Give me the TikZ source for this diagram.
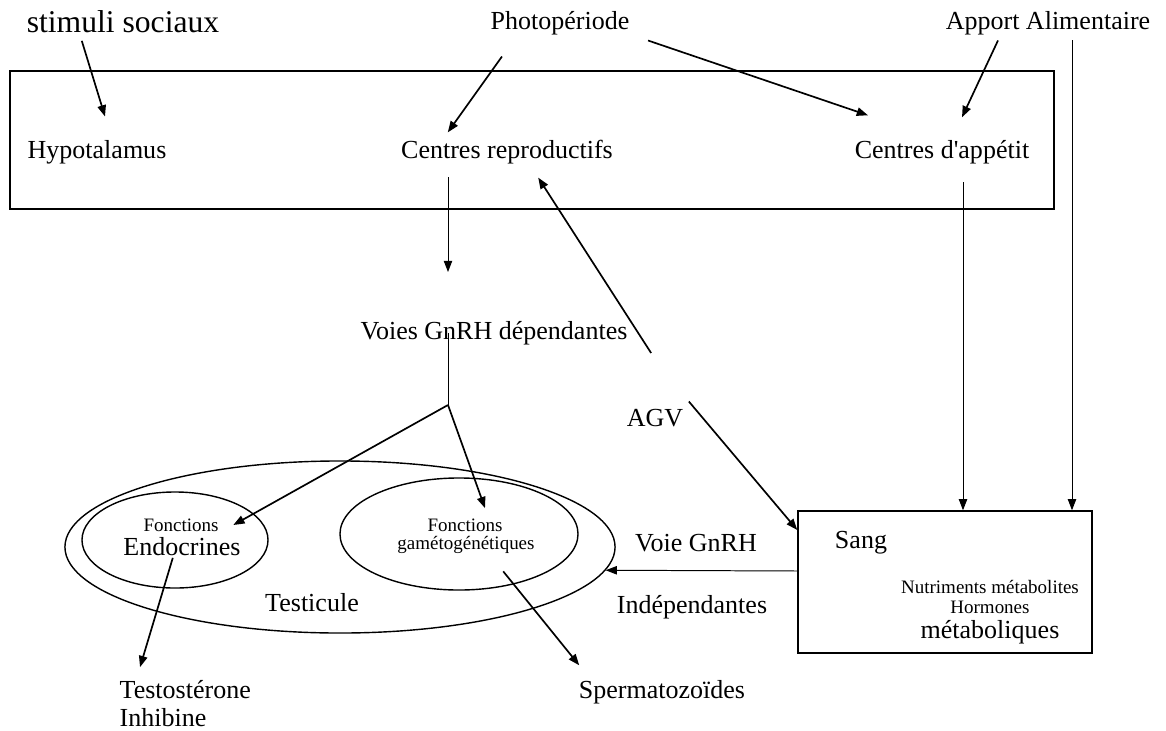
\documentclass[tikz,border=0pt]{standalone}
\usepackage{fontspec}
\setmainfont{Liberation Serif}
\usetikzlibrary{arrows.meta,shapes.geometric}
\begin{document}
\begin{tikzpicture}[x=0.025cm,y=-0.025cm,
  lbl/.style={font=\fontsize{18.5}{20}\selectfont, inner sep=1pt},
  sml/.style={font=\fontsize{13.5}{15}\selectfont, inner sep=1pt},
  arr/.style={-{Triangle[length=8pt,width=6pt]}, line width=1.2pt},
  fin/.style={-{Triangle[length=8pt,width=6pt]}, line width=0.7pt},
  oval/.style={draw, ellipse, line width=1pt, inner sep=0pt}]
\useasboundingbox (0,0) rectangle (1166,731);
% boxes and ovals
\node[draw, line width=1.3pt, minimum width=26.1cm, minimum height=3.45cm] (hypobox) at (532,140) {};
\node[draw, line width=1pt, minimum width=7.35cm, minimum height=3.55cm] (sangbox) at (945,582) {};
\node[oval, minimum width=13.75cm, minimum height=4.3cm] (testicule) at (340,547) {};
\node[oval, minimum width=4.65cm, minimum height=2.4cm] (endocrine) at (175,540) {};
\node[oval, minimum width=5.95cm, minimum height=2.8cm] (gameto) at (459,534) {};
% top labels
\node[lbl, font=\fontsize{22.5}{24}\selectfont] (stim) at (123,22) {stimuli sociaux};
\node[lbl] (photo) at (560,23) {Photopériode};
\node[lbl] (apport) at (1048,23) {Apport Alimentaire};
\node[lbl] (hypo) at (97,152) {Hypotalamus};
\node[lbl] (creprod) at (507,152) {Centres reproductifs};
\node[lbl] (cappet) at (942,152) {Centres d\textquotesingle appétit};
% middle labels
\node[lbl] (voies) at (494,333) {Voies GnRH dépendantes};
\node[lbl] (agv) at (655,418) {AGV};
% testicule
\node[sml] (fonctE) at (181,525) {Fonctions};
\node[lbl] (endoc) at (182,547) {Endocrines};
\node[sml] (fonctG) at (465,525) {Fonctions};
\node[sml] (gamet) at (466,545) {gamétogénétiques};
\node[lbl] (testic) at (312,603) {Testicule};
\node[lbl, anchor=west] (testo) at (118,690) {Testostérone};
\node[lbl, anchor=west] (inhib) at (118,718) {Inhibine};
\node[lbl] (sperm) at (662,692) {Spermatozoïdes};
% sang
\node[lbl] (voieG) at (696,543) {Voie GnRH};
\node[lbl] (indep) at (692,607) {Indépendantes};
\node[lbl] (sang) at (861,543) {Sang};
\node[sml] (nutri) at (990,587) {Nutriments métabolites};
\node[sml] (horm) at (990,607) {Hormones};
\node[lbl] (metab) at (990,632) {métaboliques};
% free ends
\coordinate (reprodrop) at (448,177);
\coordinate (gnrhin) at (448,272);
\coordinate (split) at (448,405);
\coordinate (appetdrop) at (963,182);
\coordinate (apportdrop) at (1072,40);
% arrows
\draw[arr] ([xshift=-1.03cm,yshift=-0.15cm]stim.south) -- ([xshift=0.2cm,yshift=0.55cm]hypo.north);
\draw[arr] ([xshift=-1.45cm,yshift=-0.5cm]photo.south) -- ([xshift=-1.48cm,yshift=0.15cm]creprod.north);
\draw[arr] ([xshift=2.2cm,yshift=-0.1cm]photo.south) -- ([xshift=-1.85cm,yshift=0.58cm]cappet.north);
\draw[arr] ([xshift=-1.25cm,yshift=-0.1cm]apport.south) -- ([xshift=0.5cm,yshift=0.53cm]cappet.north);
\draw[fin] (apportdrop) -- (apportdrop |- sangbox.north);
\draw[fin] (appetdrop) -- (appetdrop |- sangbox.north);
\draw[fin] (reprodrop) -- (gnrhin);
\draw[line width=0.7pt] (split |- voies) -- (split);
\draw[arr] (split) -- ([xshift=0.33cm]fonctE.east);
\draw[arr] (split) -- ([xshift=0.5cm,yshift=0.22cm]fonctG.north);
\draw[arr] ([xshift=0.55cm,yshift=-0.5cm]voies.east) -- ([xshift=0.78cm,yshift=-0.3cm]creprod.south);
\draw[arr] ([xshift=0.1cm,yshift=0.15cm]agv.north east) -- ([yshift=1.3cm]sangbox.west);
\draw[fin] ([yshift=0.275cm]sangbox.west) -- (testicule.-5);
\draw[arr] ([xshift=-0.23cm]endoc.south) -- ([xshift=0.55cm,yshift=0.3cm]testo.north west);
\draw[arr] ([xshift=0.93cm,yshift=-0.4cm]gamet.south) -- ([xshift=0.05cm,yshift=0.33cm]sperm.north west);
\end{tikzpicture}
\end{document}
